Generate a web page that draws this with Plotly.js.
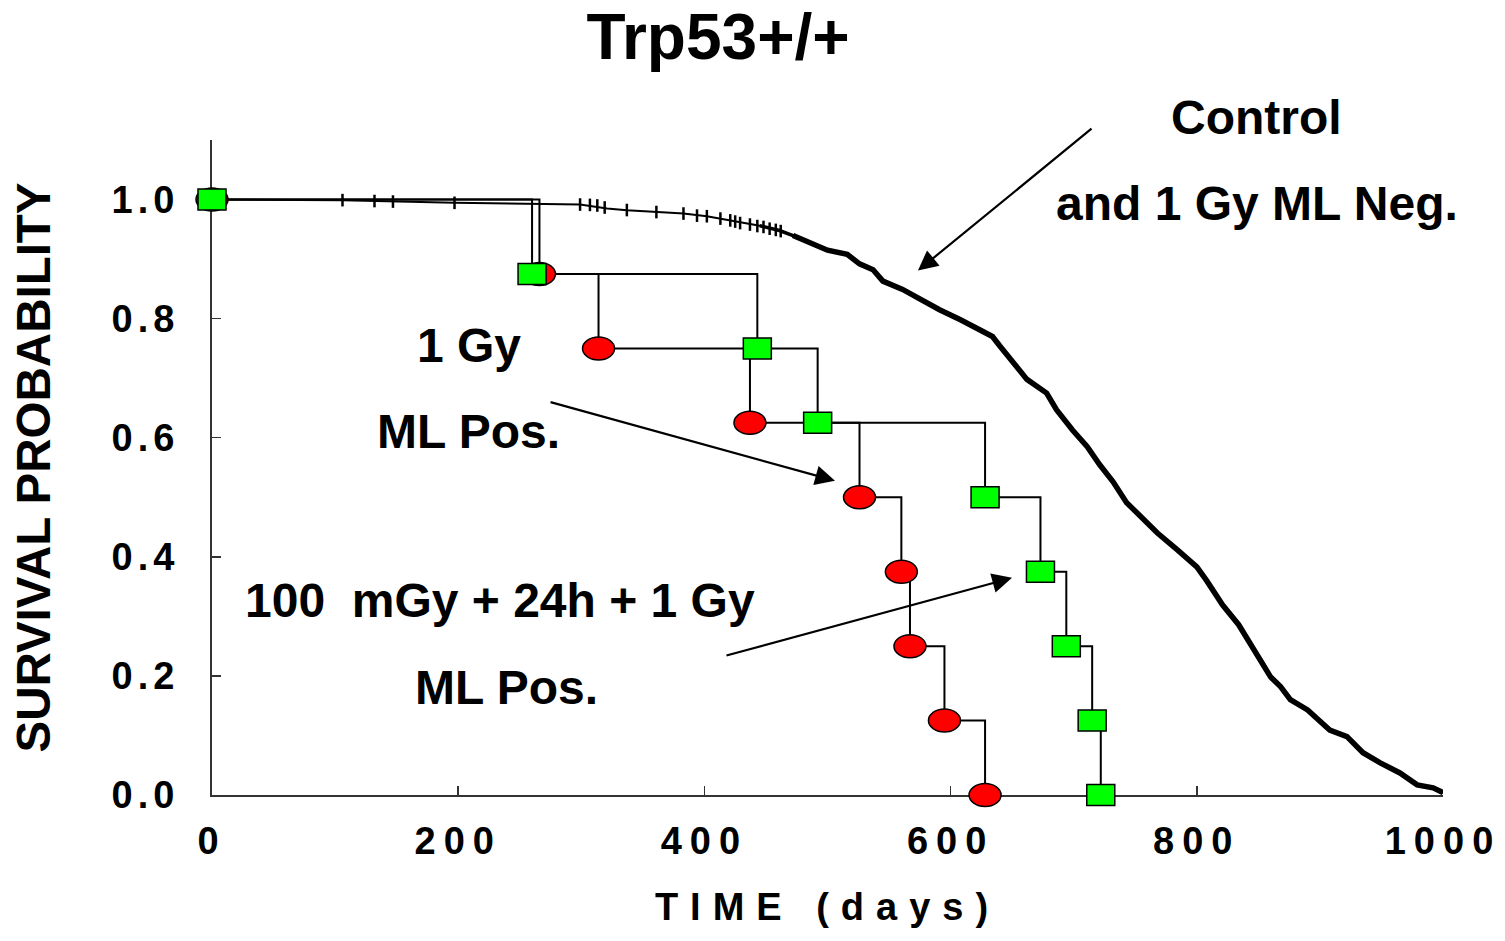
<!DOCTYPE html>
<html>
<head>
<meta charset="utf-8">
<script src="https://cdn.plot.ly/plotly-3.0.1.min.js"></script>
<style>
  body { margin: 0; padding: 0; background: #fff; }
  #chart { width: 1505px; height: 941px; }
  .xtick text { letter-spacing: 8px; }
  .ytick text { letter-spacing: 5px; }
  .g-xtitle text { letter-spacing: 12px; }
</style>
</head>
<body>
<div id="chart"></div>
<script>
// ---- Data ----
// Group "1 Gy ML Pos." (red ellipses)
const redDays = [0, 266, 314, 437, 526, 560, 567, 595, 628];
const redSurv = [1.0, 0.875, 0.75, 0.625, 0.5, 0.375, 0.25, 0.125, 0.0];
// Group "100 mGy + 24h + 1 Gy ML Pos." (green squares)
const greenDays = [0, 260, 443, 492, 628, 673, 694, 715, 722];
const greenSurv = [1.0, 0.875, 0.75, 0.625, 0.5, 0.375, 0.25, 0.125, 0.0];
// Control and 1 Gy ML Neg. (dense KM curve)
const ctrlDays = [0,106,197,266,299,321,337,362,383,402,421,445,461,472,488,500,516,526,537,545,561,575,591,608,624,634,640,651,662,678,686,699,711,721,732,743,754,768,784,800,808,821,834,843,853,860,868,876,890,908,922,935,949,965,979,992,1000];
const ctrlSurv = [1,0.999,0.9945,0.993,0.9916,0.985,0.982,0.979,0.9765,0.972,0.965,0.956,0.948,0.9395,0.926,0.915,0.908,0.892,0.882,0.863,0.849,0.832,0.815,0.798,0.782,0.770,0.754,0.726,0.698,0.675,0.647,0.613,0.585,0.555,0.526,0.491,0.468,0.440,0.412,0.383,0.360,0.319,0.286,0.255,0.224,0.198,0.182,0.160,0.143,0.109,0.098,0.071,0.054,0.037,0.017,0.012,0.004];
// Censoring marks on the control curve (sparse early part)
const censorDays = [106,132,147,197,299,307,313,319,337,361,383,394,402,413,421,425,429,437,443,448,453,458,462];
const censorSurv = [0.999,0.9975,0.9966,0.9945,0.9916,0.991,0.990,0.9866,0.9824,0.979,0.9765,0.973,0.972,0.968,0.965,0.963,0.9605,0.958,0.9555,0.954,0.951,0.949,0.947];
// Ticks
const xTickVals = [0, 200, 400, 600, 800, 1000];
const xTickText = ['0', '200', '400', '600', '800', '1000'];
const yTickVals = [0, 0.2, 0.4, 0.6, 0.8, 1.0];
const yTickText = ['0.0', '0.2', '0.4', '0.6', '0.8', '1.0'];

const FONT = 'Liberation Sans, Arial, Helvetica, sans-serif';
const denseStart = 440;
const denseDays = ctrlDays.filter(d => d >= denseStart);
const denseSurv = ctrlSurv.filter((s, i) => ctrlDays[i] >= denseStart);
const thickStart = 470;
const thickDays = ctrlDays.filter(d => d >= thickStart);
const thickSurv = ctrlSurv.filter((s, i) => ctrlDays[i] >= thickStart);

const traces = [
  { x: ctrlDays, y: ctrlSurv, mode: 'lines', line: { color: '#000', width: 2 }, hoverinfo: 'skip', cliponaxis: false },
  { x: denseDays, y: denseSurv, mode: 'lines', line: { color: '#000', width: 3.5 }, hoverinfo: 'skip', cliponaxis: false },
  { x: thickDays, y: thickSurv, mode: 'lines', line: { color: '#000', width: 5.5 }, hoverinfo: 'skip', cliponaxis: false },
  { x: censorDays, y: censorSurv, mode: 'markers', marker: { symbol: 'line-ns', size: 9, line: { color: '#000', width: 2.5 } }, hoverinfo: 'skip', cliponaxis: false },
  { x: redDays, y: redSurv, mode: 'lines', line: { color: '#000', width: 2, shape: 'hv' }, hoverinfo: 'skip', cliponaxis: false },
  { x: greenDays, y: greenSurv, mode: 'lines', line: { color: '#000', width: 2, shape: 'hv' }, hoverinfo: 'skip', cliponaxis: false }
];

// Markers as pixel-sized shapes anchored at data values
const shapes = [];
redDays.forEach((d, i) => {
  shapes.push({ type: 'circle', layer: 'above', xref: 'x', yref: 'y',
    xsizemode: 'pixel', ysizemode: 'pixel', xanchor: d, yanchor: redSurv[i],
    x0: -16, x1: 16, y0: -11.5, y1: 11.5,
    fillcolor: '#ff0000', line: { color: '#000', width: 1.5 } });
});
greenDays.forEach((d, i) => {
  shapes.push({ type: 'rect', layer: 'above', xref: 'x', yref: 'y',
    xsizemode: 'pixel', ysizemode: 'pixel', xanchor: d, yanchor: greenSurv[i],
    x0: -14, x1: 14, y0: -10.5, y1: 10.5,
    fillcolor: '#00ff00', line: { color: '#000', width: 1.5 } });
});

const txtFont = { family: FONT, size: 48, color: '#000', weight: 'bold' };
const annotations = [
  { text: 'Control', xref: 'paper', yref: 'paper', x: 0.8489, y: 1.0351, showarrow: false, font: txtFont, xanchor: 'center', yanchor: 'middle' },
  { text: 'and 1 Gy ML Neg.', xref: 'paper', yref: 'paper', x: 0.8489, y: 0.9023, showarrow: false, font: txtFont, xanchor: 'center', yanchor: 'middle' },
  { text: '1 Gy', xref: 'paper', yref: 'paper', x: 0.2088, y: 0.6855, showarrow: false, font: txtFont, xanchor: 'center', yanchor: 'middle' },
  { text: 'ML Pos.', xref: 'paper', yref: 'paper', x: 0.208, y: 0.5557, showarrow: false, font: txtFont, xanchor: 'center', yanchor: 'middle' },
  { text: '100\u00a0 mGy + 24h + 1 Gy', xref: 'paper', yref: 'paper', x: 0.234, y: 0.2962, showarrow: false, font: txtFont, xanchor: 'center', yanchor: 'middle' },
  { text: 'ML Pos.', xref: 'paper', yref: 'paper', x: 0.2396, y: 0.1634, showarrow: false, font: txtFont, xanchor: 'center', yanchor: 'middle' },
  // arrows
  { text: '', x: 573.5, y: 0.8807, ax: 715.7, ay: 1.121, xref: 'x', yref: 'y', axref: 'x', ayref: 'y',
    showarrow: true, arrowhead: 2, arrowsize: 1.8, arrowwidth: 2.2, arrowcolor: '#000', standoff: 0 },
  { text: '', x: 506.1, y: 0.5277, ax: 273.8, ay: 0.6605, xref: 'x', yref: 'y', axref: 'x', ayref: 'y',
    showarrow: true, arrowhead: 2, arrowsize: 1.8, arrowwidth: 2.2, arrowcolor: '#000', standoff: 0 },
  { text: '', x: 649.9, y: 0.3647, ax: 416.7, ay: 0.2336, xref: 'x', yref: 'y', axref: 'x', ayref: 'y',
    showarrow: true, arrowhead: 2, arrowsize: 1.8, arrowwidth: 2.2, arrowcolor: '#000', standoff: 0 }
];

const axisCommon = {
  showline: true, linecolor: '#333', linewidth: 2,
  ticks: 'inside', ticklen: 9, tickwidth: 1.5, tickcolor: '#333',
  showgrid: false, zeroline: false, fixedrange: true
};

const layout = {
  width: 1505, height: 941,
  margin: { l: 212, r: 62, t: 140, b: 146, pad: 0 },
  paper_bgcolor: '#fff', plot_bgcolor: '#fff',
  showlegend: false,
  title: { text: 'Trp53+/+', font: { family: FONT, size: 64, color: '#000', weight: 'bold' },
    x: 0.4771, xref: 'container', xanchor: 'center', y: 0.9607, yref: 'container', yanchor: 'middle' },
  xaxis: Object.assign({}, axisCommon, {
    range: [0, 1000], tickmode: 'array', tickvals: xTickVals, ticktext: xTickText,
    tickfont: { family: FONT, size: 38, color: '#000', weight: 'bold' }, ticklabelstandoff: 11,
    title: { text: 'TIME (days)', font: { family: FONT, size: 38, color: '#000', weight: 'bold' }, standoff: 33 }
  }),
  yaxis: Object.assign({}, axisCommon, {
    range: [0, 1.1], tickmode: 'array', tickvals: yTickVals, ticktext: yTickText,
    tickfont: { family: FONT, size: 38, color: '#000', weight: 'bold' }, ticklabelstandoff: 23,
    title: { text: 'SURVIVAL PROBABILITY', font: { family: FONT, size: 47.5, color: '#000', weight: 'bold' }, standoff: 46 }
  }),
  shapes: shapes,
  annotations: annotations
};

const gd = document.getElementById('chart');
function unclip() {
  gd.querySelectorAll('.shapelayer path, .shapelayer g').forEach(el => el.removeAttribute('clip-path'));
}
Plotly.newPlot(gd, traces, layout, { displayModeBar: false, staticPlot: true }).then(unclip);
gd.on && gd.on('plotly_afterplot', unclip);
</script>
</body>
</html>
